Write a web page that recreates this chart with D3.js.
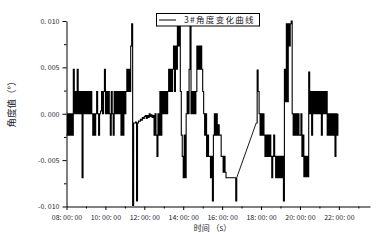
<!DOCTYPE html>
<html>
<head>
<meta charset="utf-8">
<script src="https://cdn.jsdelivr.net/npm/d3@7"></script>
<style>
  body { margin: 0; background: #fff; }
  svg { display: block; font-family: "Noto Sans CJK SC", sans-serif; }
</style>
</head>
<body>
<div id="chart"></div>
<script>
// 3# angle log, one reading every 3 min from 08:00, unit 0.001 deg (null = no reading)
const startHour = 8;
const stepMinutes = 3;
const angle08 = [-2.3, 0, -2.3, 0, -2.3, 0, -2.3, 4.8, 0, 2.4, 0, 4.8, 0, 2.4, 0, 2.4, -6.9, 2.4, 0, 2.4];
const angle09 = [0, 2.4, 0, 2.4, 0, 2.4, 0, -2.3, 0, -2.3, 0, 2.4, 0, -2.3, 0, 0.3, 2.4, 0, 2.4, 4.8];
const angle10 = [0, 2.4, 0, 2.4, 0, -2.3, 2.4, 0, -2.3, 2.4, 0, 2.4, 0, 2.4, 0, 2.4, -2.3, 2.4, -2.3, 2.4];
const angle11 = [0, 2.4, 4.8, 2.4, 4.8, 2.4, 7.3, 9.7, -9.9, -1.0, -1.0, -0.9, -9.4, -1.0, -0.8, -0.8, -0.6, -0.7, -0.4, -0.5];
const angle12 = [-0.3, -0.2, -0.5, -0.2, -0.4, 0, -0.3, -0.1, -0.4, -0.2, -2.3, 0, -2.3, -4.6, 0, -2.3, 2.4, -2.3, 2.4, 0];
const angle13 = [2.4, 0, 2.4, 0, 2.4, 4.8, 2.4, 4.8, 2.4, 4.8, 7.3, 2.4, 7.3, 4.8, 9.7, 7.3, 9.7, 2.4, -2.3, -4.6];
const angle14 = [-6.9, -2.3, -6.9, 0, 2.4, 0, 4.8, 9.5, 0, 2.4, 0, 2.4, 0, 2.4, 7.3, 4.8, 7.3, 4.8, 7.3, 4.8];
const angle15 = [2.4, 0, -2.3, 0, -4.6, -2.3, -4.6, -4.6, -6.9, -4.6, -9.4, -2.3, 0, -2.3, 0, -2.3, -1.2, -2.3, -2.3, -4.6];
const angle16 = [-4.6, -6.3, -4.6, -6.3, -6.9, -6.9, -6.9, -6.9, -6.9, -6.9, -6.9, -6.9, -6.9, -6.9, -9.4, -6.9, null, null, null, null];
const angle17 = [null, null, null, null, null, null, null, null, null, null, null, null, null, null, null, -1.0, 4.7, 2.4, 0, -2.3];
const angle18 = [0, -2.3, 0, -2.3, -4.6, -2.3, -4.6, -2.3, -4.6, -2.3, -4.6, -6.9, -4.6, -2.3, -4.6, -6.9, -4.6, -6.9, -4.6, -6.9];
const angle19 = [-4.6, -6.9, -4.6, -9.4, 4.8, 1.3, 9.7, 1.3, 9.7, 7.3, 9.7, 10.0, 0, -2.3, 0, -2.3, 0, -2.3, 0, -2.3];
const angle20 = [-2.3, 0, -4.6, -2.3, -6.8, -4.6, -6.8, -4.6, -6.8, 4.5, 0, 2.4, -2.3, 2.4, 0, 2.4, 0, 2.4, 0, 2.4];
const angle21 = [0, 2.4, -2.3, 2.4, 0, 2.4, 0, 2.4, -2.3, 0, -2.3, 0, -2.3, 0, -2.3, 0, -4.6, 0, -2.3, 0];

const yTickValues = [-10, -5, 0, 5, 10];
const yTickLabels = ["-0. 010", "-0. 005", "0. 000", "0. 005", "0. 010"];
const yMinorValues = [-7.5, -2.5, 2.5, 7.5];
const xTickHours = [8, 10, 12, 14, 16, 18, 20, 22];
const xTickLabels = ["08: 00: 00", "10: 00: 00", "12: 00: 00", "14: 00: 00", "16: 00: 00", "18: 00: 00", "20: 00: 00", "22: 00: 00"];
const xMinorHours = [9, 11, 13, 15, 17, 19, 21, 23];
const legendLabel = "3#角度变化曲线";
const xTitle = "时间 （s）";
const yTitle = "角度值（°）";

const width = 378, height = 240;

const angle = [].concat(angle08, angle09, angle10, angle11, angle12, angle13, angle14,
    angle15, angle16, angle17, angle18, angle19, angle20, angle21);

// split into runs of readings; runs are joined by straight segments over the gap
const runs = [];
let run = [];
angle.forEach((v, i) => {
    if (v === null) {
        if (run.length) runs.push(run);
        run = [];
    } else {
        run.push({ h: startHour + i * stepMinutes / 60, v: v });
    }
});
if (run.length) runs.push(run);

const x = d3.scaleLinear().domain([8, 23.6]).range([66.5, 370]);
const y = d3.scaleLinear().domain([-10, 10]).range([206.5, 21]);

const svg = d3.select("#chart")
    .append("svg")
    .attr("width", width)
    .attr("height", height);

/* data line: readings hold until the next one */
const stepLine = d3.line()
    .x(d => x(d.h))
    .y(d => y(d.v))
    .curve(d3.curveStepAfter);

const plot = svg.append("g")
    .attr("fill", "none")
    .attr("stroke", "#000")
    .attr("stroke-width", 1.1);

plot.selectAll("path.run")
    .data(runs)
    .join("path")
    .attr("class", "run")
    .attr("d", stepLine);

plot.selectAll("line.gap")
    .data(d3.pairs(runs))
    .join("line")
    .attr("class", "gap")
    .attr("stroke-width", 0.9)
    .attr("x1", ([a]) => x(a[a.length - 1].h))
    .attr("y1", ([a]) => y(a[a.length - 1].v))
    .attr("x2", ([, b]) => x(b[0].h))
    .attr("y2", ([, b]) => y(b[0].v));

/* axes */
const yAxis = svg.append("g")
    .attr("transform", "translate(66.5,0)")
    .call(d3.axisLeft(y)
        .tickValues(yTickValues)
        .tickFormat((d, i) => yTickLabels[i])
        .tickSize(4)
        .tickSizeOuter(0)
        .tickPadding(3));

svg.append("g")
    .attr("transform", "translate(66.5,0)")
    .call(d3.axisLeft(y).tickValues(yMinorValues).tickFormat("").tickSize(2.5).tickSizeOuter(0))
    .select(".domain").remove();

const xAxis = svg.append("g")
    .attr("transform", "translate(0,206.5)")
    .call(d3.axisBottom(x)
        .tickValues(xTickHours)
        .tickFormat((d, i) => xTickLabels[i])
        .tickSize(3.5)
        .tickSizeOuter(0)
        .tickPadding(5));

svg.append("g")
    .attr("transform", "translate(0,206.5)")
    .call(d3.axisBottom(x).tickValues(xMinorHours).tickFormat("").tickSize(2).tickSizeOuter(0))
    .select(".domain").remove();

svg.selectAll(".tick line").attr("stroke", "#000");
svg.selectAll(".domain").attr("stroke", "#000");
[yAxis, xAxis].forEach(a => a.selectAll("text")
    .attr("font-family", "'Noto Sans CJK SC', sans-serif")
    .attr("font-size", 7)
    .attr("fill", "#1b1b2e"));

/* titles */
svg.append("text")
    .attr("transform", "translate(10.5,102) rotate(-90)")
    .attr("text-anchor", "middle")
    .attr("dominant-baseline", "central")
    .attr("font-size", 9.5)
    .attr("fill", "#1b1b2e")
    .text(yTitle);

svg.append("text")
    .attr("x", 212.5)
    .attr("y", 231)
    .attr("text-anchor", "middle")
    .attr("font-size", 8)
    .attr("fill", "#1b1b2e")
    .text(xTitle);

/* legend */
const legend = svg.append("g");
legend.append("rect")
    .attr("x", 156.5).attr("y", 13.5)
    .attr("width", 103).attr("height", 12.5)
    .attr("fill", "#fff")
    .attr("stroke", "#000");
legend.append("line")
    .attr("x1", 159).attr("x2", 176)
    .attr("y1", 20).attr("y2", 20)
    .attr("stroke", "#000");
legend.append("text")
    .attr("x", 184).attr("y", 23.3)
    .attr("font-size", 8.5)
    .attr("letter-spacing", 1.3)
    .attr("fill", "#1b1b2e")
    .text(legendLabel);
</script>
</body>
</html>
